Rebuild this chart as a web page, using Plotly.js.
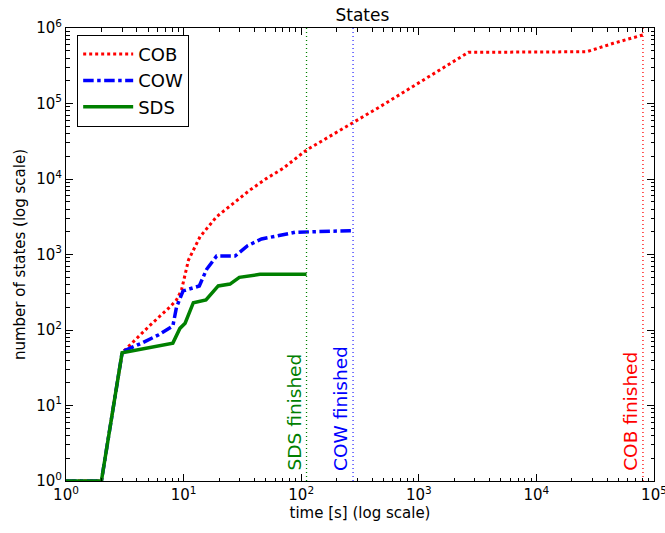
<!DOCTYPE html>
<html><head><meta charset="utf-8">
<script src="https://cdn.plot.ly/plotly-3.0.1.min.js"></script>
<style>html,body{margin:0;padding:0;background:#fff;overflow:hidden}#c{width:665px;height:533px;display:block}</style>
</head><body><div id="c"></div>
<script>
const cobX = [1, 2, 3, 5.2, 7.7, 8.7, 9.6, 11, 13.8, 19.1, 26.5, 36.7, 50.9, 70, 111, 276, 468, 2640, 26800, 45100, 76000, 80600];
const cobY = [1, 1, 50, 116, 204, 250, 338, 845, 1720, 3170, 4760, 7150, 10200, 13800, 24200, 56000, 90700, 476000, 485000, 627000, 791000, 810000];
const cowX = [1, 2, 3, 3.2, 4.4, 6.1, 8.1, 8.7, 9.9, 13.6, 15.7, 19.1, 27.4, 35, 46, 64, 88.6, 260, 276];
const cowY = [1, 1, 50, 54, 67, 86, 113, 200, 329, 383, 637, 955, 955, 1308, 1603, 1775, 1970, 2066, 2066];
const sdsX = [1, 2, 3, 8.1, 9.3, 10.3, 12.1, 15.5, 19.7, 24.8, 29.8, 39.1, 44.6, 111];
const sdsY = [1, 1, 50, 67, 105, 123, 230, 250, 383, 406, 499, 524, 546, 546];
const finishX = {SDS: 111, COW: 276, COB: 80600};
const finishLabels = ['SDS finished', 'COW finished', 'COB finished'];
const xTickVals = [1, 10, 100, 1000, 10000, 100000];
const xTickText = ['10<sup>0</sup>','10<sup>1</sup>','10<sup>2</sup>','10<sup>3</sup>','10<sup>4</sup>','10<sup>5</sup>'];
const yTickVals = [1, 10, 100, 1000, 10000, 100000, 1000000];
const yTickText = ['10<sup>0</sup>','10<sup>1</sup>','10<sup>2</sup>','10<sup>3</sup>','10<sup>4</sup>','10<sup>5</sup>','10<sup>6</sup>'];
const yRange = [1, 1000000];

function minorTicks(decades) {
  const out = [];
  for (let d = 0; d < decades; d++) for (let m = 2; m <= 9; m++) out.push(m * Math.pow(10, d));
  return out;
}
const xMinor = minorTicks(5);
const yMinor = minorTicks(6);

const traces = [
  {x: cobX, y: cobY, name: 'COB', mode: 'lines', line: {color: '#ff0000', width: 3, dash: 'dot'}},
  {x: cowX, y: cowY, name: 'COW', mode: 'lines', line: {color: '#0000ff', width: 3.5, dash: 'dashdot'}},
  {x: sdsX, y: sdsY, name: 'SDS', mode: 'lines', line: {color: '#008000', width: 3.5}},
  {x: [finishX.SDS, finishX.SDS], y: yRange, mode: 'lines', showlegend: false, line: {color: '#008000', width: 1.3, dash: '1px,3px'}},
  {x: [finishX.COW, finishX.COW], y: yRange, mode: 'lines', showlegend: false, line: {color: '#3333ff', width: 1.3, dash: '1px,3px'}},
  {x: [finishX.COB, finishX.COB], y: yRange, mode: 'lines', showlegend: false, line: {color: '#ff0000', width: 1.3, dash: '1px,3px'}},
  {x: [xTickVals[0]], y: [yTickVals[0]], xaxis: 'x2', yaxis: 'y2', mode: 'markers', marker: {opacity: 0}, showlegend: false, hoverinfo: 'skip'}
];
const colors = ['#008000', '#0000ff', '#ff0000'];
const fx = [finishX.SDS, finishX.COW, finishX.COB];
const annotations = finishLabels.map((t, i) => ({
  text: t, xref: 'x', yref: 'paper', x: Math.log10(fx[i]), y: 0.018,
  xanchor: 'right', yanchor: 'bottom', textangle: -90, showarrow: false, xshift: 0,
  font: {size: 18.5, color: colors[i], family: 'DejaVu Sans'}
}));
const axisCommon = {
  type: 'log', showgrid: false, zeroline: false, showline: true, linecolor: '#000', linewidth: 1,
  mirror: 'allticks', ticks: 'inside', ticklen: 7, tickcolor: '#000', automargin: false,
  ticklabeloverflow: 'allow',
  tickfont: {size: 15, family: 'DejaVu Sans', color: '#000'}
};
const minorCommon = {
  type: 'log', showgrid: false, zeroline: false, showline: true, linecolor: '#000', linewidth: 1,
  mirror: 'allticks', ticks: 'inside', ticklen: 3.5, tickcolor: '#000', automargin: false,
  showticklabels: false, tickmode: 'array'
};
const layout = {
  width: 665, height: 533,
  margin: {l: 66, r: 11, t: 28, b: 52},
  paper_bgcolor: '#fff', plot_bgcolor: '#fff',
  font: {family: 'DejaVu Sans', color: '#000'},
  title: {text: 'States', font: {size: 17, family: 'DejaVu Sans'}, x: 0.545, xanchor: 'center', y: 0.972, yanchor: 'middle'},
  xaxis: Object.assign({}, axisCommon, {range: [0, 5.0001], tickvals: xTickVals, ticktext: xTickText,
    title: {text: 'time [s] (log scale)', font: {size: 15}, standoff: 4}}),
  yaxis: Object.assign({}, axisCommon, {range: [0, 6.0001], tickvals: yTickVals, ticktext: yTickText,
    title: {text: 'number of states (log scale)', font: {size: 15}, standoff: 6}}),
  xaxis2: Object.assign({}, minorCommon, {overlaying: 'x', anchor: 'y2', side: 'bottom', range: [0, 5.0001], tickvals: xMinor}),
  yaxis2: Object.assign({}, minorCommon, {overlaying: 'y', anchor: 'x2', side: 'left', range: [0, 6.0001], tickvals: yMinor}),
  legend: {x: 0.019, y: 0.985, xanchor: 'left', yanchor: 'top', bordercolor: '#000', borderwidth: 1,
    bgcolor: '#fff', font: {size: 18, family: 'DejaVu Sans'}, tracegroupgap: 0, itemwidth: 50},
  annotations: annotations,
  showlegend: true
};
Plotly.newPlot('c', traces, layout, {displayModeBar: false, staticPlot: true});
</script></body></html>
